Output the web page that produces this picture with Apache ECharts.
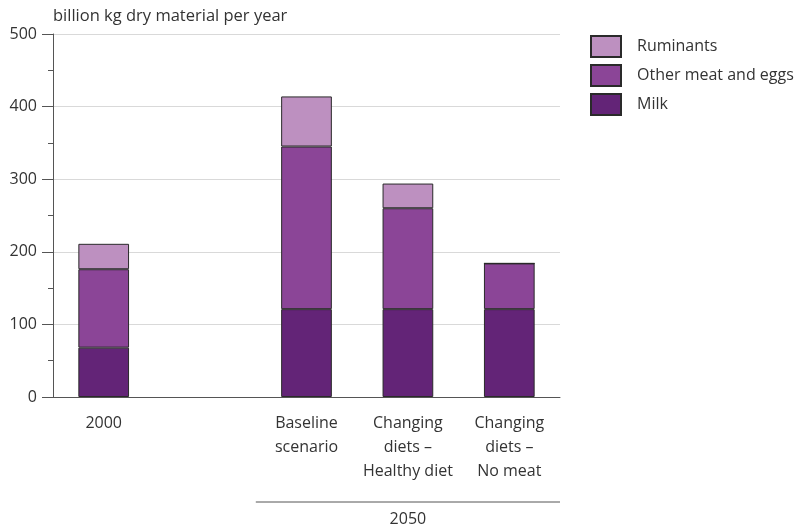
<!DOCTYPE html>
<html>
<head>
<meta charset="utf-8">
<script src="https://cdn.jsdelivr.net/npm/echarts@6/dist/echarts.min.js"></script>
<style>html,body{margin:0;padding:0;background:#fff}#c{width:801px;height:532px}</style>
</head>
<body>
<div id="c"></div>
<script>
var categories = ['2000', '', 'Baseline\nscenario', 'Changing\ndiets –\nHealthy diet', 'Changing\ndiets –\nNo meat'];
var milk = [68, null, 121, 121, 121];
var otherMeat = [108, null, 224, 139, 63];
var ruminants = [35, null, 69, 34, 0];
var yTicks = [0, 100, 200, 300, 400, 500];
var groupLabel = '2050';
var unitLabel = 'billion kg dry material per year';

var FONT = '"Open Sans", Lato, sans-serif';
var FS = 16;
var chart = echarts.init(document.getElementById('c'), null, {renderer: 'canvas'});
function mk(name, data, color) {
  return {
    name: name, type: 'bar', stack: 'a', data: data, barWidth: '50%',
    itemStyle: {color: color, borderColor: '#2a2a2a', borderWidth: 1},
    emphasis: {disabled: true}
  };
}
var option = {
  animation: false,
  textStyle: {fontFamily: FONT},
  grid: {left: 53, right: 241, top: 34, bottom: 135, containLabel: false},
  title: {text: unitLabel, left: 53, top: 8, padding: 0,
    textStyle: {fontFamily: FONT, fontSize: 16.5, fontWeight: 'normal', color: '#333'}},
  legend: {
    orient: 'vertical', left: 590, top: 35, padding: 0, itemWidth: 30, itemHeight: 21, itemGap: 6,
    icon: 'rect',
    data: ['Ruminants', 'Other meat and eggs', 'Milk'],
    textStyle: {fontFamily: FONT, fontSize: FS, color: '#333', padding: [0, 0, 0, 11]},
    selectedMode: false
  },
  xAxis: {
    type: 'category', data: categories,
    axisLine: {lineStyle: {color: '#555', width: 1}},
    axisTick: {show: false},
    axisLabel: {interval: 0, color: '#333', fontSize: FS, lineHeight: 24, margin: 14, fontFamily: FONT}
  },
  yAxis: {
    type: 'value', min: yTicks[0], max: yTicks[yTicks.length - 1], interval: 100,
    axisLine: {show: true, lineStyle: {color: '#555', width: 1}},
    axisTick: {show: true, length: 11, lineStyle: {color: '#555'}},
    minorTick: {show: true, splitNumber: 2, length: 5, lineStyle: {color: '#555'}},
    splitLine: {lineStyle: {color: '#d9d9d9'}},
    axisLabel: {color: '#333', fontSize: FS, margin: 16, fontFamily: FONT}
  },
  series: [
    mk('Milk', milk, '#632477'),
    mk('Other meat and eggs', otherMeat, '#8b4597'),
    mk('Ruminants', ruminants, '#bd90c0')
  ]
};
chart.setOption(option);
var x0 = chart.convertToPixel({xAxisIndex: 0}, 2);
var x1 = chart.convertToPixel({xAxisIndex: 0}, 3);
var band = x1 - x0;
var left = x0 - band / 2;
var right = chart.convertToPixel({xAxisIndex: 0}, 4) + band / 2;
chart.setOption({
  graphic: [
    {type: 'line', shape: {x1: left, y1: 502, x2: right, y2: 502}, style: {stroke: '#555', lineWidth: 1}},
    {type: 'text', x: (left + right) / 2, y: 511, style: {text: groupLabel, font: FS + 'px ' + FONT, fill: '#333', textAlign: 'center', textVerticalAlign: 'top'}}
  ]
});
</script>
</body>
</html>
